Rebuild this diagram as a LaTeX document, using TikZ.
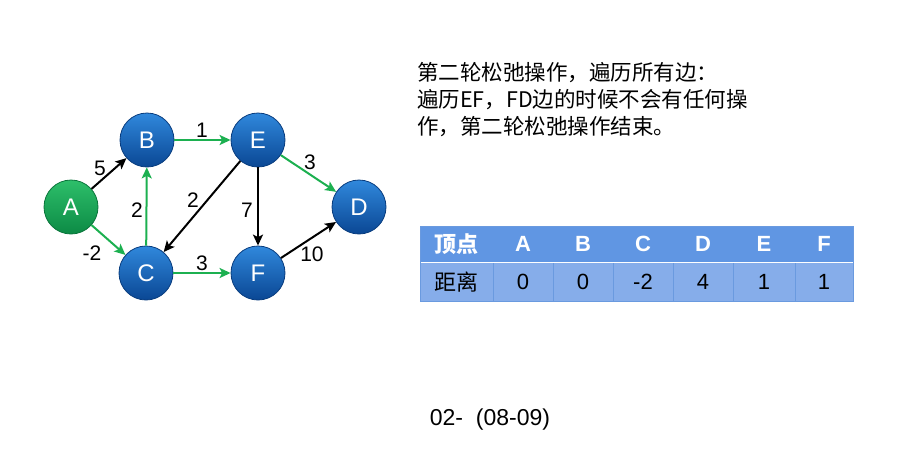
\documentclass[tikz,border=0pt]{standalone}
\usepackage{fontspec}
\setmainfont{Liberation Sans}
\newfontfamily\cjk{Noto Sans CJK SC}
\usetikzlibrary{arrows.meta}
\definecolor{egreen}{HTML}{1CB050}
\definecolor{btop}{HTML}{3088DC}
\definecolor{bbot}{HTML}{0A4794}
\definecolor{gtop}{HTML}{2DBF6A}
\definecolor{gbot}{HTML}{0C8A45}
\definecolor{hdr}{HTML}{6096E3}
\definecolor{rowb}{HTML}{86ADEA}
\definecolor{sepc}{HTML}{6A9ADF}
\tikzset{
  vert/.style={circle, minimum size=54pt, inner sep=0pt, draw=bbot!85!black, line width=0.8pt,
    top color=btop, bottom color=bbot, text=white, font=\fontsize{24}{24}\selectfont},
  vstart/.style={vert, top color=gtop, bottom color=gbot, draw=gbot!85!black},
  edge/.style={line width=2pt, -{Stealth[length=11pt,width=10pt,inset=2.5pt]}},
  gedge/.style={edge, draw=egreen},
  bedge/.style={edge, draw=black},
  elab/.style={font=\fontsize{21}{21}\selectfont, inner sep=0pt},
  hcell/.style={font=\fontsize{22}{22}\selectfont\bfseries, text=white, inner sep=0pt},
  vcell/.style={font=\fontsize{22}{22}\selectfont, text=black, inner sep=0pt},
}
\begin{document}
\begin{tikzpicture}[x=1pt,y=-1pt]
\useasboundingbox (0,0) rectangle (898,448);
% vertices
\node[vstart] (A) at (71,207) {A};
\node[vert] (B) at (147,140) {B};
\node[vert] (E) at (258,140) {E};
\node[vert] (D) at (359,207) {D};
\node[vert] (C) at (146,273) {C};
\node[vert] (F) at (258,273) {F};
% edges
\draw[bedge] (A) -- (B);
\draw[gedge] (A) -- (C);
\draw[gedge] (C) -- (B);
\draw[gedge] (B) -- (E);
\draw[bedge] (E) -- (C);
\draw[bedge] (E) -- (F);
\draw[gedge] (E) -- (D);
\draw[gedge] (C) -- (F);
\draw[bedge] (F) -- (D);
% edge labels
\node[elab] (l1) at (100,168) {5};
\node[elab] (l2) at (92,253) {-2};
\node[elab] (l3) at (137,210) {2};
\node[elab] (l4) at (193,200) {2};
\node[elab] (l5) at (247,210) {7};
\node[elab] (l6) at (202,130) {1};
\node[elab] (l7) at (310,162) {3};
\node[elab] (l8) at (202,263) {3};
\node[elab] (l9) at (312,254) {10};
% description
\node[anchor=north west, inner sep=0pt, align=left, font=\cjk\fontsize{21.5}{27}\selectfont] (txt) at (417,62)
  {第二轮松弛操作，遍历所有边：\\遍历EF，FD边的时候不会有任何操\\作，第二轮松弛操作结束。};
% table
\fill[hdr] (420,226) rectangle (853,262);
\fill[rowb] (420,262) rectangle (853,301);
\draw[white, line width=1.2pt] (420,262.5) -- (853,262.5);
\foreach \xx in {493,553,613,673,733,795} \draw[sepc, line width=0.8pt] (\xx,263) -- (\xx,301);
\draw[sepc, line width=0.8pt] (420,226) rectangle (853,301);
\node[hcell, font=\cjk\fontsize{22}{22}\selectfont\bfseries] (h0) at (456.5,244) {顶点};
\node[hcell] (h1) at (523,244) {A};
\node[hcell] (h2) at (583,244) {B};
\node[hcell] (h3) at (643,244) {C};
\node[hcell] (h4) at (703,244) {D};
\node[hcell] (h5) at (764,244) {E};
\node[hcell] (h6) at (824,244) {F};
\node[vcell, font=\cjk\fontsize{22}{22}\selectfont] (v0) at (456.5,282) {距离};
\node[vcell] (v1) at (523,282) {0};
\node[vcell] (v2) at (583,282) {0};
\node[vcell] (v3) at (643,282) {-2};
\node[vcell] (v4) at (703,282) {4};
\node[vcell] (v5) at (764,282) {1};
\node[vcell] (v6) at (824,282) {1};
% footer
\node[font=\fontsize{23}{23}\selectfont, inner sep=0pt] (foot) at (490,420) {02-\ \ (08-09)};
\end{tikzpicture}
\end{document}
